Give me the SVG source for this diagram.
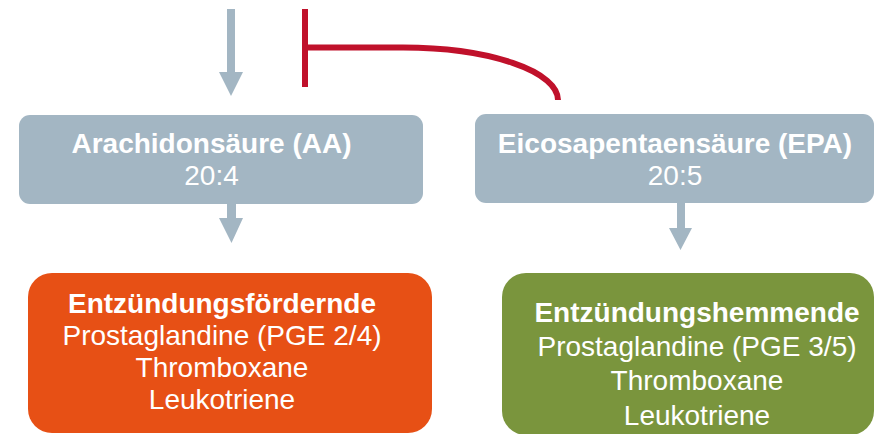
<svg xmlns="http://www.w3.org/2000/svg" width="875" height="434" viewBox="0 0 875 434">
<style>
text{font-family:"Liberation Sans",Arial,sans-serif;font-size:28px;fill:#ffffff;text-anchor:middle}
.b{font-weight:bold}
.gray{fill:#a3b6c3}
.arr{fill:#a3b6c3}
.inh{fill:none;stroke:#c0112b;stroke-width:6}
</style>
<g id="connectors">
<path class="arr" d="M227 9H235V72H243L231 96L219 72H227Z"/>
<path class="arr" d="M227 204H236V218H243L231.5 243L219 218H227Z"/>
<path class="arr" d="M677 203H685V228H692L680.5 250L669 228H677Z"/>
<path class="inh" d="M305 9V87M305 47.5H403A155 52.5 0 0 1 558 100"/>
</g>
<g id="aa">
<rect class="gray" x="19" y="115" width="404" height="89" rx="11"/>
<text class="b" x="211.5" y="153">Arachidonsäure (AA)</text>
<text x="211.5" y="185">20:4</text>
</g>
<g id="epa">
<rect class="gray" x="475" y="114" width="399" height="89" rx="11"/>
<text class="b" x="675" y="153">Eicosapentaensäure (EPA)</text>
<text x="675" y="185">20:5</text>
</g>
<g id="pro">
<rect x="28" y="273" width="404" height="160" rx="24" fill="#e75015"/>
<text class="b" x="222" y="313">Entzündungsfördernde</text>
<text x="222" y="345">Prostaglandine (PGE 2/4)</text>
<text x="222" y="377">Thromboxane</text>
<text x="222" y="409">Leukotriene</text>
</g>
<g id="anti">
<rect x="502" y="273" width="372" height="162" rx="24" fill="#7a953d"/>
<text class="b" x="697" y="322">Entzündungshemmende</text>
<text x="697" y="356">Prostaglandine (PGE 3/5)</text>
<text x="697" y="390">Thromboxane</text>
<text x="697" y="425">Leukotriene</text>
</g>
</svg>
